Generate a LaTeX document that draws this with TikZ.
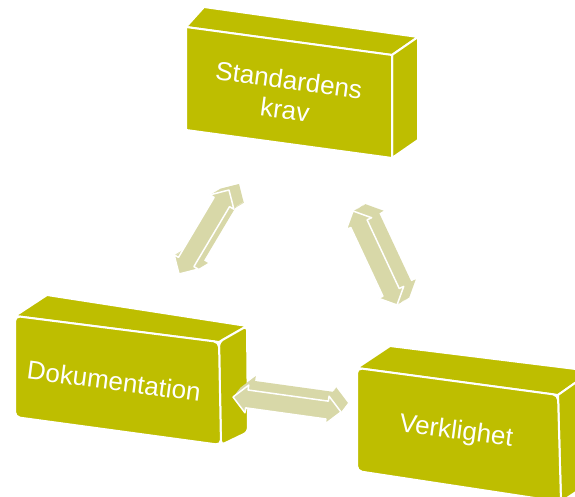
\documentclass[tikz,border=0pt]{standalone}
\usepackage{fontspec}
\setmainfont{Liberation Sans}
\usetikzlibrary{calc}

\definecolor{boxolive}{RGB}{190,190,0}
\definecolor{arrowkhaki}{RGB}{216,216,168}

\tikzset{
  face/.style={fill=boxolive, draw=white, line width=2pt, line join=round},
  boxtext/.style={text=white, font=\fontsize{26}{30}\selectfont, align=center, inner sep=0pt, rotate=-7.5},
  arrowdepth/.style={fill=arrowkhaki},
  arrowfront/.style={fill=arrowkhaki, draw=white, line width=1.5pt, line join=round}
}

% double block arrow between two named points
\newcommand{\arrowpath}[2]{(#1) -- ($(#1)!14pt!(#2)!14pt!90:(#2)$) -- ($(#1)!14pt!(#2)!9pt!90:(#2)$)
  -- ($(#2)!14pt!(#1)!9pt!-90:(#1)$) -- ($(#2)!14pt!(#1)!14pt!-90:(#1)$) -- (#2)
  -- ($(#2)!14pt!(#1)!14pt!90:(#1)$) -- ($(#2)!14pt!(#1)!9pt!90:(#1)$)
  -- ($(#1)!14pt!(#2)!9pt!-90:(#2)$) -- ($(#1)!14pt!(#2)!14pt!-90:(#2)$) -- cycle}

\newcommand{\dblarrow}[4]{%
  \foreach \k in {10,9,...,1}{
    \begin{scope}[transform canvas={shift={({#3*\k/10},{#4*\k/10})}}]
      \fill[arrowdepth] \arrowpath{#1}{#2};
    \end{scope}
  }
  \filldraw[arrowfront] \arrowpath{#1}{#2};
}

\begin{document}
\begin{tikzpicture}[x=1pt, y=-1pt]
  \useasboundingbox (0,0) rectangle (575,497);
  \clip (0,0) rectangle (575,497);

  % top box
  \filldraw[face] (186,27) -- (204,7) -- (418,37) -- (392,55) -- cycle;
  \filldraw[face] (392,55) -- (418,37) -- (418,140) -- (392,158) -- cycle;
  \filldraw[face] (186,27) -- (392,55) -- (392,158) -- (186,130) -- cycle;
  \node[boxtext] (std) at (287,95) {Standardens\\krav};

  % left box
  \filldraw[face] (15,316) -- (47,295) -- (247,326) -- (219,342) -- cycle;
  \filldraw[face, rounded corners=4pt] (219,342) -- (247,326) -- (248,432) -- (221,445) -- cycle;
  \filldraw[face, rounded corners=5pt] (15,316) -- (219,342) -- (221,445) -- (15,417) -- cycle;
  \node[boxtext] (dok) at (114,381) {Dokumentation};

  % right box
  \filldraw[face] (357,368) -- (390,346) -- (592,371) -- (558,395) -- cycle;
  \filldraw[face] (558,395) -- (592,371) -- (594,480) -- (561,502) -- cycle;
  \filldraw[face, rounded corners=5pt] (357,368) -- (558,395) -- (561,502) -- (357,471) -- cycle;
  \node[boxtext] (ver) at (456,432) {Verklighet};

  % arrows
  \coordinate (la1) at (179,274);
  \coordinate (la2) at (229,190);
  \coordinate (ra1) at (353,211);
  \coordinate (ra2) at (397,305);
  \coordinate (ba1) at (233,397);
  \coordinate (ba2) at (341,412);
  \dblarrow{la1}{la2}{10}{-6}
  \dblarrow{ra1}{ra2}{12}{-7}
  \dblarrow{ba1}{ba2}{7}{-9}
\end{tikzpicture}
\end{document}
